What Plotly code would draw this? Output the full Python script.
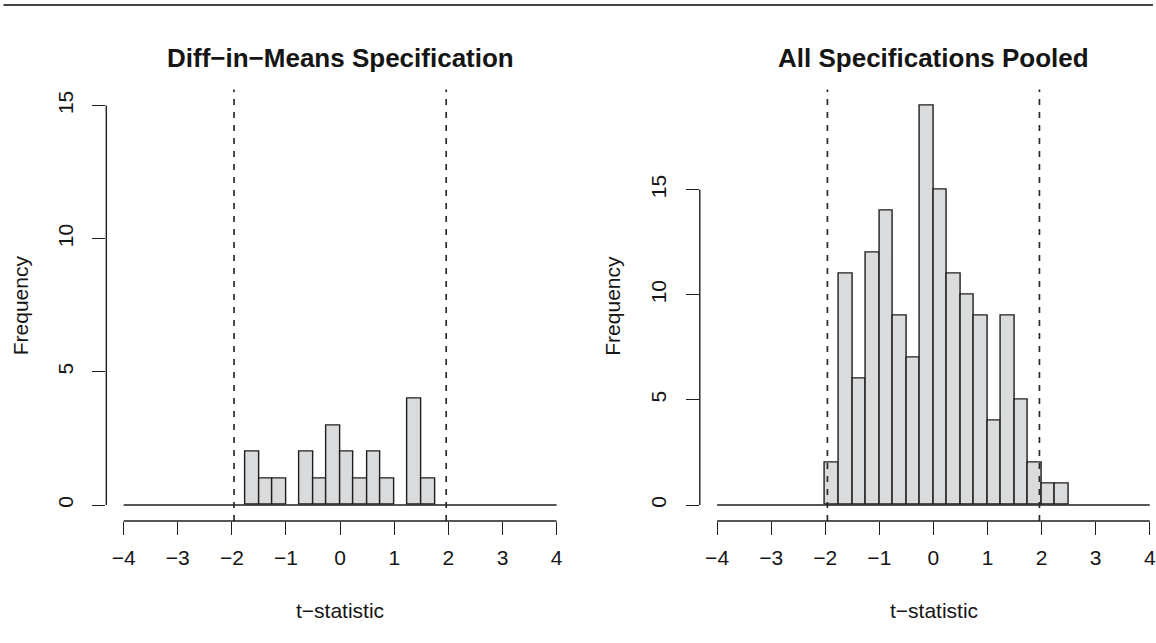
import numpy as np
import plotly.graph_objects as go

# ---- data ----
BIN_START = -4.0
BIN_END = 4.0
BIN_WIDTH = 0.25
# counts per 0.25-wide bin from -4 to 4 (32 bins)
left_counts = [0]*9 + [2, 1, 1, 0, 2, 1, 3, 2, 1, 2, 1, 0, 4, 1] + [0]*9
right_counts = [0]*8 + [2, 11, 6, 12, 14, 9, 7, 19, 15, 11, 10, 9, 4, 9, 5, 2, 1, 1] + [0]*6
crit_values = [-1.96, 1.96]
x_ticks = [-4, -3, -2, -1, 0, 1, 2, 3, 4]
x_ticktext = ["\u22124", "\u22123", "\u22122", "\u22121", "0", "1", "2", "3", "4"]
y_ticks = [0, 5, 10, 15]
titles = ["Diff\u2212in\u2212Means Specification", "All Specifications Pooled"]
x_title = "t\u2212statistic"
y_title = "Frequency"

edges = np.arange(BIN_START, BIN_END + 1e-9, BIN_WIDTH)
centers = (edges[:-1] + edges[1:]) / 2

W, H = 1156, 643
FONT = "Liberation Sans, Arial, Helvetica, sans-serif"
FILL = "#DADBDC"
EDGE = "#1e1e1e"
TXT = "#151515"
FS = 21

fig = go.Figure()

panels = [
    dict(counts=left_counts, xa="x", ya="y", xdom=[106.6 / W, 575.4 / W], xr=[-4.32, 4.32], yr=[-0.6, 15.6],
         xc=341, ytitle_x=20),
    dict(counts=right_counts, xa="x2", ya="y2", xdom=[701.6 / W, 1.0], xr=[-4.32, 4.06], yr=[-0.76, 19.76],
         xc=936, ytitle_x=614),
]
ydom = [1 - 521 / H, 1 - 89.6 / H]

for i, p in enumerate(panels):
    cnt = np.array(p["counts"])
    mask = cnt > 0
    fig.add_trace(go.Bar(
        x=centers[mask], y=cnt[mask], width=BIN_WIDTH,
        marker=dict(color=FILL, line=dict(color=EDGE, width=1.4)),
        xaxis=p["xa"], yaxis=p["ya"], showlegend=False, hoverinfo="skip",
    ))
    # baseline for empty bins (histogram spans all breaks)
    fig.add_trace(go.Scatter(
        x=[edges[0], edges[-1]], y=[0, 0], mode="lines",
        line=dict(color=EDGE, width=1.4),
        xaxis=p["xa"], yaxis=p["ya"], showlegend=False, hoverinfo="skip",
    ))
    # critical value lines
    for cv in crit_values:
        fig.add_shape(type="line", xref=p["xa"], yref=p["ya"] + " domain",
                      x0=cv, x1=cv, y0=0, y1=1,
                      line=dict(color="#2a2a2a", width=1.7, dash="6px,7px"))
    # axis lines (R style: from first to last tick)
    fig.add_shape(type="line", xref=p["xa"], yref=p["ya"] + " domain",
                  x0=x_ticks[0], x1=x_ticks[-1], y0=0, y1=0,
                  line=dict(color=EDGE, width=1.4))
    fig.add_shape(type="line", xref=p["xa"] + " domain", yref=p["ya"],
                  x0=0, x1=0, y0=y_ticks[0], y1=y_ticks[-1],
                  line=dict(color=EDGE, width=1.4))

    xkey = "xaxis" if i == 0 else "xaxis2"
    ykey = "yaxis" if i == 0 else "yaxis2"
    fig.update_layout(**{
        xkey: dict(domain=p["xdom"], range=p["xr"], anchor=p["ya"],
                   showgrid=False, zeroline=False, showline=False,
                   ticks="outside", ticklen=13, tickwidth=1.4, tickcolor=EDGE,
                   tickvals=x_ticks, ticktext=x_ticktext,
                   tickfont=dict(size=FS, color=TXT, family=FONT),
                   ticklabelstandoff=5, ticklabeloverflow="allow", fixedrange=True),
        ykey: dict(domain=ydom, range=p["yr"], anchor=p["xa"],
                   showgrid=False, zeroline=False, showline=False,
                   ticks="outside", ticklen=13, tickwidth=1.4, tickcolor=EDGE,
                   tickvals=y_ticks, tickangle=-90,
                   tickfont=dict(size=FS, color=TXT, family=FONT),
                   ticklabelstandoff=11, fixedrange=True),
    })

    # title
    fig.add_annotation(text="<b>" + titles[i] + "</b>", xref="paper", yref="paper",
                       x=p["xc"] / W, y=1 - 58 / H, showarrow=False,
                       font=dict(size=26, color=TXT, family=FONT),
                       xanchor="center", yanchor="middle")
    # x title
    fig.add_annotation(text=x_title, xref="paper", yref="paper",
                       x=p["xc"] / W, y=1 - 610 / H, showarrow=False,
                       font=dict(size=FS, color=TXT, family=FONT),
                       xanchor="center", yanchor="middle")
    # y title
    fig.add_annotation(text=y_title, xref="paper", yref="paper",
                       x=p["ytitle_x"] / W, y=(ydom[0] + ydom[1]) / 2, showarrow=False, textangle=-90,
                       font=dict(size=FS, color=TXT, family=FONT),
                       xanchor="center", yanchor="middle")

# top rule line
fig.add_shape(type="line", xref="paper", yref="paper", x0=0.003, x1=1, y0=1 - 5 / H, y1=1 - 5 / H,
              line=dict(color="#444", width=2.2))

fig.update_layout(
    width=W, height=H, margin=dict(l=0, r=0, t=0, b=0),
    paper_bgcolor="white", plot_bgcolor="white",
    bargap=0, showlegend=False,
    font=dict(family=FONT, color=TXT),
)

fig.write_html("out.html", config={"displayModeBar": False},
               post_script="document.body.style.margin='0px';document.body.style.overflow='hidden';")
